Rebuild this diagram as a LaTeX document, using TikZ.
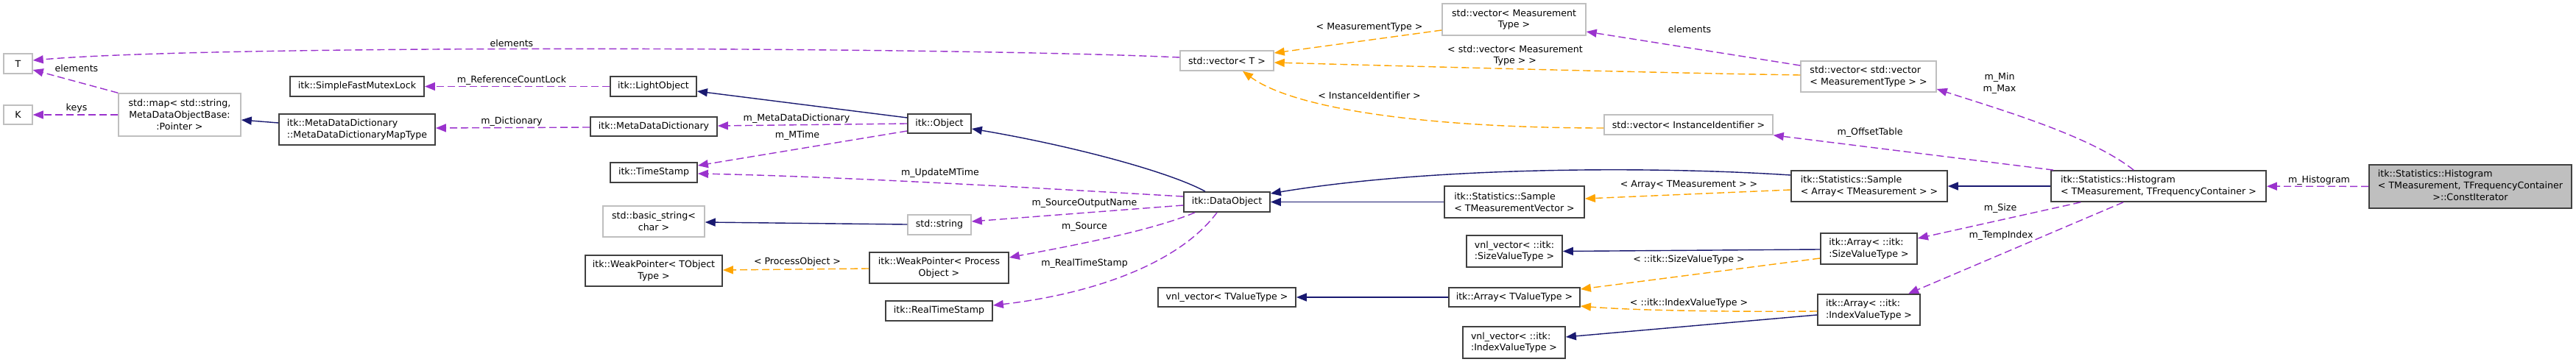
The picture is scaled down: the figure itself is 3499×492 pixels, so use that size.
\documentclass[tikz,border=0pt]{standalone}
\usepackage{fontspec}
\setmainfont{DejaVu Sans}
\usetikzlibrary{arrows.meta,calc}
\definecolor{usecol}{HTML}{9A32CD}
\definecolor{tplcol}{HTML}{FFA500}
\definecolor{inhcol}{HTML}{191970}
\definecolor{undoc}{HTML}{BFBFBF}
\definecolor{docb}{HTML}{404040}
\definecolor{tgtfill}{HTML}{BFBFBF}
\begin{document}
\begin{tikzpicture}[x=1pt,y=-1pt,
  every node/.style={font=\fontsize{12.6}{15.7}\selectfont, inner sep=0pt},
  dbox/.style 2 args={draw=docb, line width=1.8pt, fill=white, minimum width=#1pt, minimum height=#2pt},
  ubox/.style 2 args={draw=undoc, line width=1.5pt, fill=white, minimum width=#1pt, minimum height=#2pt},
  tip/.style={-{Triangle[length=14pt,width=11pt]}},
  usage/.style={draw=usecol, line width=1.4pt, dash pattern=on 10pt off 5pt, tip},
  tmpl/.style={draw=tplcol, line width=1.4pt, dash pattern=on 10pt off 5pt, tip},
  inh/.style={draw=inhcol, line width=1.4pt, tip}]
\useasboundingbox (0,0) rectangle (3499,492);
% nodes
\node[ubox={39}{27}] (T) at (24.5,86.5) {T};
\node[ubox={39}{26}] (K) at (24.5,156) {K};
\node[ubox={166}{58}, align=center] (map) at (244,156) {std::map< std::string,\\ MetaDataObjectBase:\\:Pointer >};
\node[dbox={182}{27}] (sfml) at (485,117.5) {itk::SimpleFastMutexLock};
\node[dbox={212}{42}, align=left] (maptype) at (485,176) {itk::MetaDataDictionary\\::MetaDataDictionaryMapType};
\node[dbox={117}{27}] (light) at (887.5,117.5) {itk::LightObject};
\node[dbox={172}{26}] (mdd) at (888,172) {itk::MetaDataDictionary};
\node[dbox={118}{27}] (ts) at (888,234.5) {itk::TimeStamp};
\node[ubox={138}{42}, align=center] (bstr) at (888,301) {std::basic\_string<\\char >};
\node[dbox={186}{42}, align=center] (wpt) at (888,368) {itk::WeakPointer< TObject\\Type >};
\node[dbox={86}{26}] (obj) at (1276,168) {itk::Object};
\node[ubox={86}{27}] (str) at (1276,305.5) {std::string};
\node[dbox={189}{42}, align=center] (wpp) at (1275.5,364) {itk::WeakPointer< Process\\Object >};
\node[dbox={145}{27}] (rts) at (1275.5,422.5) {itk::RealTimeStamp};
\node[dbox={117}{27}] (dobj) at (1666.5,274.5) {itk::DataObject};
\node[ubox={127}{27}] (vect) at (1666.5,82.5) {std::vector< T >};
\node[dbox={187}{26}] (vnlt) at (1666.5,404) {vnl\_vector< TValueType >};
\node[ubox={195}{43}, align=center] (vecmeas) at (2056.5,26.5) {std::vector< Measurement\\Type >};
\node[dbox={190}{43}, align=left] (samptmv) at (2057,274.5) {itk::Statistics::Sample\\< TMeasurementVector >};
\node[dbox={130}{43}, align=left] (vnlsize) at (2057,341.5) {vnl\_vector< ::itk:\\:SizeValueType >};
\node[dbox={178}{26}] (arrt) at (2057,404) {itk::Array< TValueType >};
\node[dbox={139}{43}, align=left] (vnlidx) at (2056.5,465.5) {vnl\_vector< ::itk:\\:IndexValueType >};
\node[ubox={229}{27}] (veciid) at (2293.5,169.5) {std::vector< InstanceIdentifier >};
\node[ubox={184}{42}, align=left] (vecvec) at (2538,104) {std::vector< std::vector\\< MeasurementType > >};
\node[dbox={212}{42}, align=left] (samparr) at (2539,253) {itk::Statistics::Sample\\< Array< TMeasurement > >};
\node[dbox={131}{42}, align=left] (arrsize) at (2538.5,338) {itk::Array< ::itk:\\:SizeValueType >};
\node[dbox={139}{42}, align=left] (arridx) at (2538.5,421) {itk::Array< ::itk:\\:IndexValueType >};
\node[dbox={292}{42}, align=left] (hist) at (2932,253) {itk::Statistics::Histogram\\< TMeasurement, TFrequencyContainer >};
\node[dbox={275}{59}, fill=tgtfill] (target) at (3355.5,253.5) {\begin{tabular}{@{}l@{}}itk::Statistics::Histogram\\< TMeasurement, TFrequencyContainer\\\multicolumn{1}{@{}c@{}}{>::ConstIterator}\end{tabular}};
% edges
\draw[usage] (target) -- (hist);
\draw[inh] (hist) -- (samparr);
\draw[usage] ($(hist.north west)+(113,0)$) .. controls (2840,185) and (2720,150) .. ($(vecvec.east)+(0,17)$);
\draw[usage] ($(hist.north west)+(4,0)$) -- (veciid.south east);
\draw[usage] ($(hist.south west)+(41,0)$) -- ($(arrsize.east)+(0,-14)$);
\draw[usage] ($(hist.south west)+(99,0)$) -- ($(arridx.north west)+(124,0)$);
\draw[tmpl] ($(samparr.west)+(0,5)$) -- ($(samptmv.east)+(0,-4.5)$);
\draw[inh] ($(samparr.west)+(0,-15)$) .. controls (2250,226) and (1950,226) .. ($(dobj.east)+(0,-11.5)$);
\draw[inh] (samptmv) -- (dobj);
\draw[tmpl] ($(vecmeas.west)+(0,14.5)$) -- ($(vect.east)+(0,-10.5)$);
\draw[tmpl] ($(vecvec.west)+(0,-2)$) .. controls (2250,99) and (1950,91) .. ($(vect.east)+(0,2.5)$);
\draw[usage] ($(vecvec.west)+(0,-15)$) -- ($(vecmeas.east)+(0,16.5)$);
\draw[tmpl] ($(veciid.west)+(0,4.5)$) .. controls (1950,174) and (1760,150) .. ($(vect.south)+(21.5,0)$);
\draw[usage] ($(vect.west)+(0,-4.5)$) .. controls (1300,64) and (300,60) .. ($(T.east)+(0,-4.5)$);
\draw[usage] (map.north west) -- ($(T.east)+(0,8.5)$);
\draw[usage] (map) -- (K);
\draw[inh] ($(maptype.west)+(0,-9)$) -- ($(map.east)+(0,7)$);
\draw[usage] ($(mdd.west)+(0,1)$) -- ($(maptype.east)+(0,-2)$);
\draw[usage] (light) -- (sfml);
\draw[inh] ($(obj.west)+(0,-8)$) -- ($(light.east)+(0,6.5)$);
\draw[usage] (obj.west) -- ($(mdd.east)+(0,-1)$);
\draw[usage] ($(obj.west)+(0,10)$) -- ($(ts.east)+(0,-9.5)$);
\draw[inh] ($(dobj.north)+(-29.5,0)$) .. controls (1585,232) and (1450,197) .. ($(obj.east)+(0,7)$);
\draw[usage] ($(dobj.west)+(0,-7.5)$) .. controls (1450,258) and (1150,240) .. ($(ts.east)+(0,1.5)$);
\draw[usage] ($(dobj.west)+(0,4.5)$) -- ($(str.east)+(0,-4.5)$);
\draw[usage] ($(dobj.south)+(-43.5,0)$) .. controls (1560,315) and (1450,335) .. ($(wpp.east)+(0,-14)$);
\draw[usage] ($(dobj.south)+(-13.5,0)$) .. controls (1600,360) and (1480,400) .. ($(rts.east)+(0,-7.5)$);
\draw[tmpl] ($(wpp.west)+(0,1)$) -- ($(wpt.east)+(0,-1)$);
\draw[inh] (str) -- ($(bstr.east)+(0,1)$);
\draw[inh] (arrt) -- (vnlt);
\draw[inh] ($(arrsize.west)+(0,1)$) -- (vnlsize.east);
\draw[tmpl] ($(arrsize.west)+(0,13)$) -- ($(arrt.east)+(0,-11)$);
\draw[tmpl] ($(arridx.west)+(0,2)$) .. controls (2350,424) and (2220,422) .. ($(arrt.east)+(0,12)$);
\draw[inh] ($(arridx.west)+(0,7)$) -- ($(vnlidx.east)+(0,-7.5)$);
% labels
\node (lHist) at (3150,245) {m\_Histogram};
\node[align=center] (lMinMax) at (2716,113) {m\_Min\\m\_Max};
\node (lOff) at (2540,180) {m\_OffsetTable};
\node (lSize) at (2717,283) {m\_Size};
\node (lTemp) at (2718,320) {m\_TempIndex};
\node (lSArr) at (2294,251) {< Array< TMeasurement > >};
\node (lSzT) at (2294,353) {< ::itk::SizeValueType >};
\node (lIdxT) at (2294,412) {< ::itk::IndexValueType >};
\node (lElem2) at (2295,40) {elements};
\node (lMeasT) at (1860,37) {< MeasurementType >};
\node[align=center] (lVecT) at (2058,75.5) {< std::vector< Measurement\\Type > >};
\node (lIID) at (1860,130) {< InstanceIdentifier >};
\node (lElem1) at (695,59) {elements};
\node (lElem0) at (104,93) {elements};
\node (lKeys) at (104,147) {keys};
\node (lRef) at (695,109) {m\_ReferenceCountLock};
\node (lDict) at (695,165) {m\_Dictionary};
\node (lMDD) at (1082,161) {m\_MetaDataDictionary};
\node (lMT) at (1083,184) {m\_MTime};
\node (lUMT) at (1277,235) {m\_UpdateMTime};
\node (lSON) at (1473,276) {m\_SourceOutputName};
\node (lSrc) at (1473,308) {m\_Source};
\node (lRTS) at (1473,358) {m\_RealTimeStamp};
\node (lPO) at (1083,356) {< ProcessObject >};
\end{tikzpicture}
\end{document}
